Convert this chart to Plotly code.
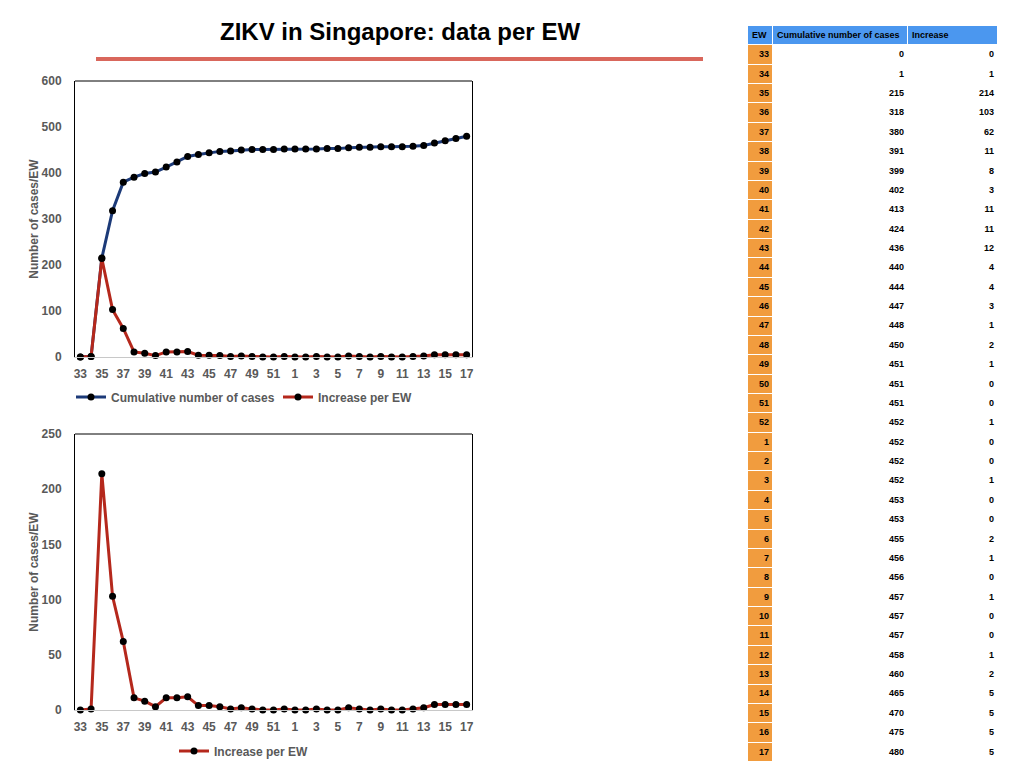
import plotly.graph_objects as go

ew = ["33","34","35","36","37","38","39","40","41","42","43","44","45","46","47","48","49","50","51","52",
      "1","2","3","4","5","6","7","8","9","10","11","12","13","14","15","16","17"]
cumulative = [0,1,215,318,380,391,399,402,413,424,436,440,444,447,448,450,451,451,451,452,
              452,452,452,453,453,455,456,456,457,457,457,458,460,465,470,475,480]
increase = [0,1,214,103,62,11,8,3,11,11,12,4,4,3,1,2,1,0,0,1,
            0,0,1,0,0,2,1,0,1,0,0,1,2,5,5,5,5]
tick_labels = ew[::2]
title_text = "ZIKV in Singapore: data per EW"
y_title = "Number of cases/EW"
table_header = ["EW", "Cumulative number of cases", "Increase"]

# page offset (body margin) compensation: figure drawn from (8, 8)
OFF = 8
W, H = 1024 - OFF, 768 - OFF
def px(x):
    return (x - OFF) / W
def py(y):
    return 1 - (y - OFF) / H

NAVY = "#1c3a78"
RED = "#b5281c"
GRAY = "#595959"
FONT = "Liberation Sans, Arial, sans-serif"

fig = go.Figure()

mk = dict(color="black", size=7)
fig.add_trace(go.Scatter(x=ew, y=cumulative, mode="lines+markers", name="Cumulative number of cases",
                         line=dict(color=NAVY, width=3), marker=mk, xaxis="x", yaxis="y",
                         cliponaxis=False, legend="legend"))
fig.add_trace(go.Scatter(x=ew, y=increase, mode="lines+markers", name="Increase per EW",
                         line=dict(color=RED, width=3), marker=mk, xaxis="x", yaxis="y",
                         cliponaxis=False, legend="legend"))
fig.add_trace(go.Scatter(x=ew, y=increase, mode="lines+markers", name="Increase per EW",
                         line=dict(color=RED, width=3), marker=mk, xaxis="x2", yaxis="y2",
                         cliponaxis=False, legend="legend2"))

# ---- table drawn on its own axes (x3/y3) ----
col_widths = [25, 135, 90]
edges = [0]
for w in col_widths:
    edges.append(edges[-1] + w)
n_rows = len(ew) + 1  # header + data
rows = list(range(n_rows))
# colour class per cell: 2 = header, 0 = EW column, 1 = plain cell
zc = [[2, 2, 2]] + [[0, 1, 1] for _ in ew]
fig.add_trace(go.Heatmap(
    x=edges, y=rows, z=zc, xaxis="x3", yaxis="y3",
    colorscale=[[0, "#f19c3e"], [0.5, "#ffffff"], [1, "#4b97ef"]], zmin=0, zmax=2,
    showscale=False, xgap=1, ygap=1, hoverinfo="skip",
))
pad = 4
tfont = dict(family=FONT, size=9, color="black", weight="bold")
fig.add_trace(go.Scatter(
    x=[edges[i] + pad for i in range(3)], y=[0, 0, 0], text=table_header,
    mode="text", textposition="middle right", textfont=tfont,
    xaxis="x3", yaxis="y3", showlegend=False, hoverinfo="skip", cliponaxis=False))
for ci, col in enumerate([ew, cumulative, increase]):
    fig.add_trace(go.Scatter(
        x=[edges[ci + 1] - pad] * len(col), y=rows[1:], text=[str(v) for v in col],
        mode="text", textposition="middle left", textfont=tfont,
        xaxis="x3", yaxis="y3", showlegend=False, hoverinfo="skip", cliponaxis=False))

tickfont = dict(family=FONT, size=12, color=GRAY, weight="bold")
xcommon = dict(type="category", categoryorder="array", categoryarray=ew, range=[-0.5, 36.5],
               tickmode="array", tickvals=tick_labels, ticktext=tick_labels,
               showgrid=False, zeroline=False, showline=True, linecolor="#c8c8c8", linewidth=1,
               ticks="outside", ticklen=6, tickcolor="rgba(0,0,0,0)", tickfont=tickfont,
               automargin=False)
ycommon = dict(showgrid=False, zeroline=False, showline=True, linecolor="black", linewidth=1, mirror=True,
               ticks="outside", ticklen=10, tickcolor="rgba(0,0,0,0)", tickfont=tickfont,
               automargin=False,
               title=dict(text=y_title, font=dict(family=FONT, size=12, color=GRAY, weight="bold"), standoff=0))

legfont = dict(family=FONT, size=12, color=GRAY, weight="bold")
fig.update_layout(
    width=W, height=H, margin=dict(l=0, r=0, t=0, b=0, pad=0, autoexpand=False),
    paper_bgcolor="white", plot_bgcolor="white",
    xaxis=dict(domain=[px(75), px(472)], anchor="y", **xcommon),
    yaxis=dict(domain=[py(357), py(81)], anchor="x", range=[0, 600], dtick=100, **ycommon),
    xaxis2=dict(domain=[px(75), px(472)], anchor="y2", **xcommon),
    yaxis2=dict(domain=[py(710), py(434)], anchor="x2", range=[0, 250], dtick=50, **ycommon),
    xaxis3=dict(domain=[px(748), px(998)], anchor="y3", range=[edges[0], edges[-1]],
                visible=False, fixedrange=True, automargin=False),
    yaxis3=dict(domain=[py(762), py(26)], anchor="x3", range=[n_rows - 0.5, -0.5],
                visible=False, fixedrange=True, automargin=False),
    legend=dict(orientation="h", x=px(71), y=py(397), xanchor="left", yanchor="middle",
                font=legfont, bgcolor="rgba(0,0,0,0)", itemwidth=30,
                entrywidth=162, entrywidthmode="pixels"),
    legend2=dict(orientation="h", x=px(174), y=py(751), xanchor="left", yanchor="middle",
                 font=legfont, bgcolor="rgba(0,0,0,0)", itemwidth=30),
    showlegend=True,
    annotations=[dict(text="<b>%s</b>" % title_text, x=px(400), y=py(32), xref="paper", yref="paper",
                      xanchor="center", yanchor="middle", showarrow=False,
                      font=dict(family=FONT, size=24, color="black"))],
    shapes=[
        dict(type="line", xref="paper", yref="paper", x0=px(96), x1=px(703), y0=py(59), y1=py(59),
             line=dict(color="#d9675c", width=4)),
        dict(type="line", xref="x domain", yref="y domain", x0=0, x1=1, y0=1, y1=1,
             line=dict(color="black", width=1)),
        dict(type="line", xref="x2 domain", yref="y2 domain", x0=0, x1=1, y0=1, y1=1,
             line=dict(color="black", width=1)),
    ],
)

fig.write_html("out.html")
